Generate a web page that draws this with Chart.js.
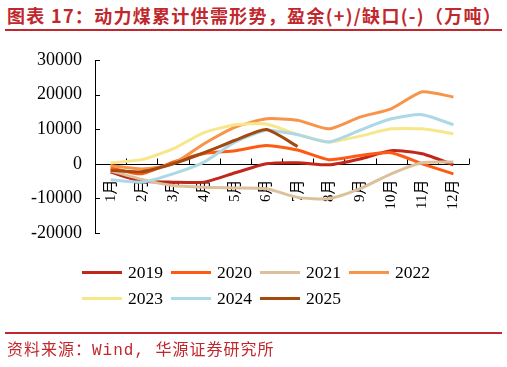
<!DOCTYPE html>
<html>
<head>
<meta charset="utf-8">
<script src="https://cdn.jsdelivr.net/npm/chart.js@4.4.1/dist/chart.umd.min.js"></script>
<style>
body { margin: 0; width: 507px; height: 367px; background: #fff; position: relative; overflow: hidden; }
#title { position: absolute; left: 7px; top: 4px; font: bold 18px "Noto Sans CJK SC"; color: #c0282d; letter-spacing: 1.3px; white-space: nowrap; line-height: 22px; }
.rule { position: absolute; left: 5px; width: 497px; height: 2px; background: #c0282d; }
#chart { position: absolute; left: 0; top: 0; }
.item { position: absolute; height: 20px; display: flex; align-items: center; font: 17.5px "Liberation Serif"; color: #000; white-space: nowrap; }
.swatch { width: 40px; height: 3px; margin-right: 6px; }
#source { position: absolute; left: 7px; top: 341px; font: 16px "Liberation Mono", "Noto Sans CJK SC"; color: #c0282d; letter-spacing: 1px; white-space: pre; line-height: 20px; }
</style>
</head>
<body>
<div id="title">图表 17：动力煤累计供需形势，盈余(+)/缺口(-)（万吨）</div>
<div class="rule" style="top:29px"></div>
<canvas id="chart" width="507" height="367"></canvas>
<div id="legend"></div>
<div class="rule" style="top:332px"></div>
<div id="source">资料来源：Wind, 华源证券研究所</div>
<script>
var months = ['1月', '2月', '3月', '4月', '5月', '6月', '7月', '8月', '9月', '10月', '11月', '12月']
var years = ['2019', '2020', '2021', '2022', '2023', '2024', '2025']
var colors = ['#c0281c', '#ff5a14', '#dcc09c', '#f7944a', '#f8e68a', '#add8e6', '#a34a12']

var s2019 = [-2400, -5000, -5300, -5300, -2600, 0, 300, -300, 1400, 3800, 2900, -300]
var s2020 = [-1200, -2900, 500, 3000, 3800, 5300, 4000, 1200, 2400, 3200, 0, -2900]
var s2021 = [-2000, -4500, -6300, -6800, -7000, -7200, -9700, -10100, -7200, -2900, 300, 500]
var s2022 = [-500, -1500, 0, 5800, 10600, 13000, 12600, 10100, 13500, 15900, 20800, 19300]
var s2023 = [300, 1200, 4300, 9000, 11300, 11500, 8500, 6300, 8000, 10100, 10100, 8700]
var s2024 = [-4600, -5300, -2900, 500, 6300, 9700, 8400, 6300, 9700, 13000, 14200, 11300]
var s2025 = [-1900, -2300, 0, 3200, 6800, 9900, 5000]
var series = [s2019, s2020, s2021, s2022, s2023, s2024, s2025]

// x axis sits on the zero line, ticks point up, y ticks point inward
var axisMarks = {
    id: 'axisMarks',
    beforeDatasetsDraw(chart) {
        var ctx = chart.ctx
        var area = chart.chartArea
        var x = chart.scales.x
        var y = chart.scales.y
        var y0 = Math.round(y.getPixelForValue(0)) + 0.5
        ctx.save()
        ctx.strokeStyle = '#000'
        ctx.lineWidth = 1
        ctx.beginPath()
        ctx.moveTo(area.left, y0)
        ctx.lineTo(area.right, y0)
        for (var i = 0; i < months.length; i++) {
            var b = i < months.length - 1 ? (x.getPixelForValue(i) + x.getPixelForValue(i + 1)) / 2 : area.right
            b = Math.round(b) + 0.5
            ctx.moveTo(b, y0)
            ctx.lineTo(b, y0 - 6)
        }
        for (var j = 0; j < y.ticks.length; j++) {
            var p = Math.round(y.getPixelForTick(j)) + 0.5
            ctx.moveTo(area.left, p)
            ctx.lineTo(area.left + 5, p)
        }
        ctx.stroke()

        ctx.fillStyle = '#000'
        ctx.font = '15px "Liberation Serif", "Noto Sans CJK SC"'
        ctx.textAlign = 'right'
        ctx.textBaseline = 'middle'
        for (var k = 0; k < months.length; k++) {
            ctx.save()
            ctx.translate(x.getPixelForValue(k), y0 + 15)
            ctx.rotate(-Math.PI / 2)
            ctx.fillText(months[k], 0, 0)
            ctx.restore()
        }
        ctx.restore()
    }
}

Chart.defaults.font.family = '"Liberation Serif"'
Chart.defaults.color = '#000'

var datasets = []
for (var i = 0; i < years.length; i++) {
    datasets.push({
        label: years[i],
        data: series[i],
        borderColor: colors[i],
        backgroundColor: colors[i],
        borderWidth: 3,
        pointRadius: 0,
        tension: 0.2,
        order: -i
    })
}

var ctx = document.getElementById('chart').getContext('2d')
var myChart = new Chart(ctx, {
    type: 'line',
    data: { labels: months, datasets: datasets },
    options: {
        responsive: false,
        animation: false,
        layout: { padding: { left: 0, right: 38, top: 60, bottom: 134 } },
        plugins: { legend: { display: false }, tooltip: { enabled: false } },
        scales: {
            x: { display: false, offset: true },
            y: {
                min: -20000,
                max: 30000,
                ticks: {
                    stepSize: 10000,
                    padding: 13,
                    font: { size: 18 },
                    callback: function (v) { return String(v) }
                },
                grid: { display: false, drawTicks: false },
                border: { display: true, color: '#000', width: 1 },
                afterFit: function (scale) { scale.width = 95 }
            }
        }
    },
    plugins: [axisMarks]
})

// legend built from the chart's datasets, 4 per row, left aligned
var legend = document.getElementById('legend')
myChart.data.datasets.forEach(function (ds, i) {
    var item = document.createElement('div')
    item.className = 'item'
    item.style.left = (82 + (i % 4) * 89) + 'px'
    item.style.top = (262 + Math.floor(i / 4) * 26.5) + 'px'
    var sw = document.createElement('span')
    sw.className = 'swatch'
    sw.style.background = ds.borderColor
    item.appendChild(sw)
    item.appendChild(document.createTextNode(ds.label))
    legend.appendChild(item)
})
</script>
</body>
</html>
